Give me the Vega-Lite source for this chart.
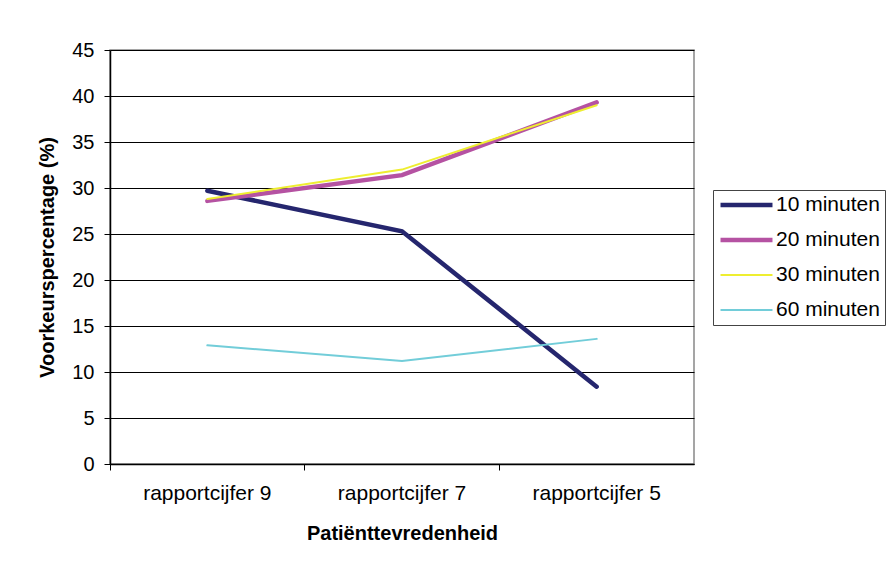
{
  "$schema": "https://vega.github.io/schema/vega-lite/v6.json",
  "autosize": "none",
  "width": 584,
  "height": 414,
  "padding": {"left": 110, "top": 50, "right": 193, "bottom": 103},
  "background": "white",
  "config": {
    "font": "Liberation Sans",
    "view": {"stroke": "#888", "strokeWidth": 1.5},
    "axis": {"labelColor": "black", "titleColor": "black", "domainColor": "black", "tickColor": "black", "labelFontSize": 20, "titleFontSize": 20, "titleFontWeight": "bold", "labelFont": "Liberation Sans", "titleFont": "Liberation Sans"}
  },
  "data": {
    "values": [
      {"cijfer": "rapportcijfer 9", "serie": "10 minuten", "v": 29.7},
      {"cijfer": "rapportcijfer 7", "serie": "10 minuten", "v": 25.3},
      {"cijfer": "rapportcijfer 5", "serie": "10 minuten", "v": 8.4},
      {"cijfer": "rapportcijfer 9", "serie": "20 minuten", "v": 28.6},
      {"cijfer": "rapportcijfer 7", "serie": "20 minuten", "v": 31.4},
      {"cijfer": "rapportcijfer 5", "serie": "20 minuten", "v": 39.3},
      {"cijfer": "rapportcijfer 9", "serie": "30 minuten", "v": 28.8},
      {"cijfer": "rapportcijfer 7", "serie": "30 minuten", "v": 32.0},
      {"cijfer": "rapportcijfer 5", "serie": "30 minuten", "v": 39.0},
      {"cijfer": "rapportcijfer 9", "serie": "60 minuten", "v": 12.9},
      {"cijfer": "rapportcijfer 7", "serie": "60 minuten", "v": 11.2},
      {"cijfer": "rapportcijfer 5", "serie": "60 minuten", "v": 13.6}
    ]
  },
  "mark": {"type": "line", "strokeCap": "round", "strokeJoin": "miter"},
  "encoding": {
    "x": {
      "field": "cijfer", "type": "nominal", "sort": ["rapportcijfer 9", "rapportcijfer 7", "rapportcijfer 5"],
      "scale": {"type": "band", "paddingInner": 0, "paddingOuter": 0},
      "axis": {"title": "Patiënttevredenheid", "labelAngle": 0, "labelFontSize": 21, "bandPosition": 0, "tickSize": 6, "labelPadding": 12, "titlePadding": 20, "grid": false, "domainWidth": 1.5}
    },
    "y": {
      "field": "v", "type": "quantitative",
      "scale": {"domain": [0, 45], "nice": false},
      "axis": {"title": "Voorkeurspercentage (%)", "values": [0,5,10,15,20,25,30,35,40,45], "tickSize": 6, "labelPadding": 10, "titlePadding": 14, "grid": true, "gridColor": "black", "gridOpacity": 1, "gridWidth": 1, "domainWidth": 1.5}
    },
    "color": {
      "field": "serie", "type": "ordinal",
      "scale": {"domain": ["10 minuten", "20 minuten", "30 minuten", "60 minuten"], "range": ["#25266e", "#b552a2", "#eeee30", "#72cdd9"]},
      "legend": {
        "title": null, "orient": "none", "legendX": 603, "legendY": 140,
        "symbolType": "stroke", "symbolSize": 2700, "labelFontSize": 21, "labelColor": "black", "labelFont": "Liberation Sans",
        "strokeColor": "#444", "padding": 5, "clipHeight": 20, "rowPadding": 14, "labelOffset": 1, "fillColor": "white"
      }
    },
    "strokeWidth": {
      "field": "serie", "type": "ordinal",
      "scale": {"type": "ordinal", "domain": ["10 minuten", "20 minuten", "30 minuten", "60 minuten"], "range": [4.5, 4.5, 2, 2]},
      "legend": {"title": null}
    },
    "order": {"field": "cijfer"}
  }
}
